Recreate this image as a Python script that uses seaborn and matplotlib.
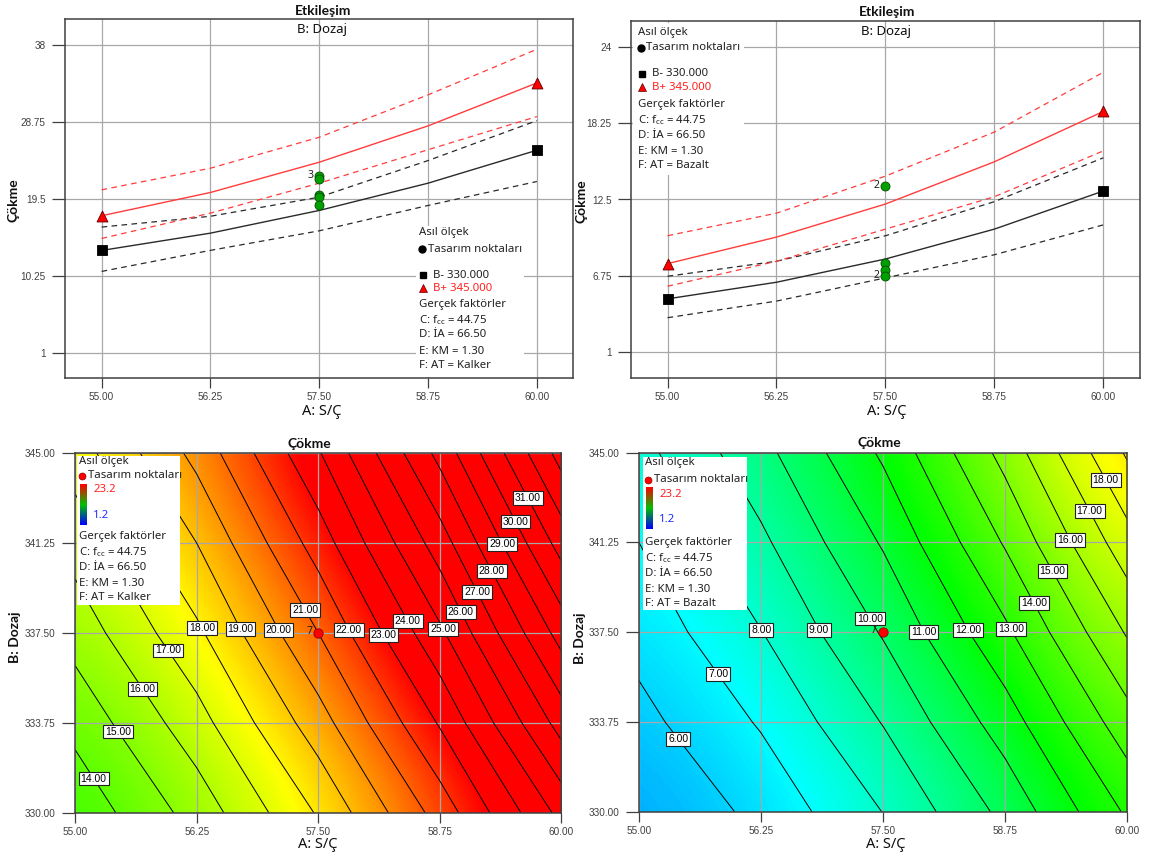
import numpy as np
import pandas as pd
import matplotlib
matplotlib.use("Agg")
import matplotlib.pyplot as plt
import seaborn as sns
from matplotlib.colors import LinearSegmentedColormap
from matplotlib.patches import Rectangle
from matplotlib.lines import Line2D

# ------------------------------------------------------------------ data
A_levels = [55.00, 56.25, 57.50, 58.75, 60.00]
B_levels = [330.00, 333.75, 337.50, 341.25, 345.00]
A_ticklabels = ["55.00", "56.25", "57.50", "58.75", "60.00"]
B_ticklabels = ["330.00", "333.75", "337.50", "341.25", "345.00"]

kal_yticks = [1, 10.25, 19.5, 28.75, 38]
kal_yticklabels = ["1", "10.25", "19.5", "28.75", "38"]
baz_yticks = [1, 6.75, 12.5, 18.25, 24]
baz_yticklabels = ["1", "6.75", "12.5", "18.25", "24"]

# Kalker - interaction (B- = 330, B+ = 345), mean and CI bands
kal_bminus = [13.29, 15.37, 18.10, 21.38, 25.34]
kal_bminus_hi = [16.10, 17.40, 19.70, 24.10, 28.90]
kal_bminus_lo = [10.77, 13.30, 15.65, 18.70, 21.58]
kal_bplus = [17.46, 20.26, 23.90, 28.27, 33.43]
kal_bplus_hi = [20.58, 23.18, 26.90, 32.00, 37.48]
kal_bplus_lo = [14.73, 17.78, 21.38, 25.40, 29.39]
kal_points = [22.3, 21.9, 19.95, 19.7, 18.7]
kal_point_labels = ["3", "", "", "", ""]

# Bazalt - interaction
baz_bminus = [5.02, 6.27, 8.02, 10.27, 13.14]
baz_bminus_hi = [6.72, 7.85, 9.77, 12.34, 15.64]
baz_bminus_lo = [3.60, 4.85, 6.60, 8.34, 10.59]
baz_bplus = [7.67, 9.67, 12.16, 15.34, 19.13]
baz_bplus_hi = [9.77, 11.47, 14.26, 17.58, 22.08]
baz_bplus_lo = [5.97, 7.85, 10.27, 12.71, 16.16]
baz_points = [13.54, 7.72, 7.22, 6.77]
baz_point_labels = ["2", "", "", "2"]

# Contour grids: rows = B_levels (330 -> 345), cols = A_levels
kal_grid = [
    [13.3, 15.4, 18.10, 21.4, 25.3],
    [14.3, 16.6, 19.55, 23.1, 27.4],
    [15.4, 17.8, 21.00, 24.8, 29.4],
    [16.4, 19.0, 22.45, 26.5, 31.4],
    [17.5, 20.3, 23.90, 28.3, 33.4],
]
baz_grid = [
    [5.02, 6.27, 8.02, 10.27, 13.14],
    [5.70, 7.10, 9.05, 11.50, 14.60],
    [6.35, 7.97, 10.09, 12.80, 16.10],
    [7.00, 8.80, 11.10, 14.10, 17.60],
    [7.67, 9.67, 12.16, 15.34, 19.13],
]
kal_levels = list(range(13, 34))
baz_levels = list(range(5, 20))
center_runs = "7"
color_lo, color_hi = 1.2, 23.2

# label placement (data coords) for contour labels
kal_label_pos = [(55.245, 331.57), (55.49, 333.52), (55.75, 335.32), (56.0, 336.9),
                 (56.33, 337.76), (56.75, 337.76), (57.15, 337.76), (57.42, 338.6),
                 (57.87, 337.76), (58.24, 337.58), (58.48, 338.14), (58.83, 337.76),
                 (59.02, 338.5), (59.2, 339.35), (59.34, 340.2), (59.45, 341.34),
                 (59.58, 342.26), (59.69, 343.22)]
baz_label_pos = [(55.47, 333.25), (55.87, 335.92), (56.31, 337.73), (56.92, 337.76),
                 (57.44, 338.25), (58.0, 337.69), (58.45, 337.76), (58.87, 337.76),
                 (59.12, 338.87), (59.3, 340.2), (59.49, 341.52), (59.66, 342.65),
                 (59.82, 343.96)]

# ------------------------------------------------------------------ style
sns.set_style("white")
plt.rcParams['font.family'] = ['Noto Sans', 'DejaVu Sans']
plt.rcParams['mathtext.fontset'] = 'custom'
plt.rcParams['mathtext.rm'] = 'Noto Sans'
plt.rcParams['mathtext.it'] = 'Noto Sans'
plt.rcParams['mathtext.default'] = 'regular'

W, H = 1151, 857
fig = plt.figure(figsize=(W / 100, H / 100), dpi=100)


def fx(x):
    return x / W


def fy(y):
    return 1 - y / H


def axes_px(l, t, r, b, **kw):
    return fig.add_axes([fx(l), fy(b), (r - l) / W, (b - t) / H], **kw)


TICK_FONT = 'Liberation Sans'
BOLD_FONT = ['Lato', 'DejaVu Sans']
EDGE = '#404040'
TXT = '#202020'


def style(ax, xt, xl, yt, yl, xlim, ylim, below=True):
    ax.set_xlim(*xlim)
    ax.set_ylim(*ylim)
    ax.set_xticks(xt, xl, fontfamily=TICK_FONT, fontsize=7.2, color='#404040')
    ax.set_yticks(yt, yl, fontfamily=TICK_FONT, fontsize=7.2, color='#404040')
    ax.tick_params(axis='y', length=9.5, width=0.9, pad=4.5, color=EDGE, direction='out', left=True)
    ax.tick_params(axis='x', length=7, width=0.9, pad=3, color=EDGE, direction='out', bottom=True)
    ax.grid(True, color='#a8a8a8', lw=0.9)
    ax.set_axisbelow(True if below else 'line')
    for sp in ax.spines.values():
        sp.set_visible(True)
        sp.set_color(EDGE)
        sp.set_linewidth(1.1)
    ax.set_xlabel('')
    ax.set_ylabel('')


def ftext(x, y, s, **kw):
    kw.setdefault('fontsize', 8.2)
    kw.setdefault('va', 'center')
    kw.setdefault('ha', 'left')
    kw.setdefault('color', TXT)
    kw.setdefault('zorder', 11)
    fig.text(fx(x), fy(y), s, **kw)


def fbox(l, t, r, b):
    fig.add_artist(Rectangle((fx(l), fy(b)), (r - l) / W, (b - t) / H,
                             transform=fig.transFigure, facecolor='white',
                             edgecolor='none', zorder=10))


def fmark(x, y, **kw):
    fig.add_artist(Line2D([fx(x)], [fy(y)], transform=fig.transFigure,
                          zorder=11, linestyle='none', **kw))


cmap = LinearSegmentedColormap.from_list(
    'de', [(0, '#0000ff'), (0.27, '#00ffff'), (0.5, '#00ff00'),
           (0.76, '#ffff00'), (1, '#ff0000')])
legend_cmap = LinearSegmentedColormap.from_list('lg', ['#0000ff', '#00c000', '#ff0000'])

# ------------------------------------------------------------------ axes
ax_tl = axes_px(65.3, 19.3, 573.2, 378.3)
ax_tr = axes_px(631.2, 21.3, 1139.7, 377.7)
ax_bl = axes_px(75.2, 453.3, 561.4, 812.7)
ax_br = axes_px(638.9, 452.7, 1127.2, 811.7)

BLK = '#2a2a2a'
RED = '#ff3c3c'
DASH = (0, (4.5, 3.5))


def interaction(ax, bm, bm_hi, bm_lo, bp, bp_hi, bp_lo, pts, pt_labels):
    sns.lineplot(x=A_levels, y=bm_hi, ax=ax, color=BLK, lw=0.9, linestyle=DASH, zorder=3)
    sns.lineplot(x=A_levels, y=bm_lo, ax=ax, color=BLK, lw=0.9, linestyle=DASH, zorder=3)
    sns.lineplot(x=A_levels, y=bp_hi, ax=ax, color=RED, lw=0.9, linestyle=DASH, zorder=3)
    sns.lineplot(x=A_levels, y=bp_lo, ax=ax, color=RED, lw=0.9, linestyle=DASH, zorder=3)
    sns.lineplot(x=A_levels, y=bm, ax=ax, color=BLK, lw=1.0, zorder=3)
    sns.lineplot(x=A_levels, y=bp, ax=ax, color=RED, lw=1.0, zorder=3)
    sns.scatterplot(x=[A_levels[0], A_levels[-1]], y=[bm[0], bm[-1]], ax=ax, marker='s',
                    s=50, color='black', edgecolor='black', linewidth=0.6, zorder=5, legend=False)
    sns.scatterplot(x=[A_levels[0], A_levels[-1]], y=[bp[0], bp[-1]], ax=ax, marker='^',
                    s=62, color='#ff0000', edgecolor='#600000', linewidth=0.6, zorder=5, legend=False)
    sns.scatterplot(x=[A_levels[2]] * len(pts), y=pts, ax=ax, marker='o', s=42,
                    color='#00a000', edgecolor='#004d00', linewidth=0.6, zorder=6, legend=False)
    for v, lab in zip(pts, pt_labels):
        if lab:
            ax.annotate(lab, (A_levels[2], v), xytext=(-4.5, 0), textcoords='offset points',
                        ha='right', va='center', fontsize=7.5, color='#202020', zorder=7)


interaction(ax_tl, kal_bminus, kal_bminus_hi, kal_bminus_lo, kal_bplus, kal_bplus_hi,
            kal_bplus_lo, kal_points, kal_point_labels)
style(ax_tl, A_levels, A_ticklabels, kal_yticks, kal_yticklabels,
      (54.583, 60.417), (1 - 3.083, 38 + 3.083))

interaction(ax_tr, baz_bminus, baz_bminus_hi, baz_bminus_lo, baz_bplus, baz_bplus_hi,
            baz_bplus_lo, baz_points, baz_point_labels)
style(ax_tr, A_levels, A_ticklabels, baz_yticks, baz_yticklabels,
      (54.583, 60.417), (1 - 1.917, 24 + 1.917))


def contour_panel(ax, grid, levels, label_pos):
    AA, BB = np.meshgrid(A_levels, B_levels)
    Z = np.array(grid)
    dA = (A_levels[1] - A_levels[0]) / 2
    dB = (B_levels[1] - B_levels[0]) / 2
    ax.imshow(Z, origin='lower', aspect='auto', cmap=cmap, vmin=color_lo, vmax=color_hi,
              interpolation='bicubic', interpolation_stage='data',
              extent=(A_levels[0] - dA, A_levels[-1] + dA, B_levels[0] - dB, B_levels[-1] + dB),
              zorder=0)
    cs = ax.contour(AA, BB, Z, levels=levels, colors='black', linewidths=0.7, zorder=2)
    ax.clabel(cs, inline=False, fmt='%.2f', fontsize=7.5, manual=label_pos, colors='black')
    for t in cs.labelTexts:
        t.set_rotation(0)
        t.set_fontfamily(TICK_FONT)
        t.set_bbox(dict(boxstyle='square,pad=0.18', facecolor='white',
                        edgecolor='#202020', linewidth=0.8))
        t.set_zorder(4)
    sns.scatterplot(x=[A_levels[2]], y=[B_levels[2]], ax=ax, marker='o', s=45,
                    color='#ff0000', edgecolor='#900000', linewidth=0.6, zorder=6, legend=False)
    ax.annotate(center_runs, (A_levels[2], B_levels[2]), xytext=(-4.5, 1), textcoords='offset points',
                ha='right', va='center', fontsize=7.5, color='#202020', zorder=7)


contour_panel(ax_bl, kal_grid, kal_levels, kal_label_pos)
style(ax_bl, A_levels, A_ticklabels, B_levels, B_ticklabels, (55, 60), (330, 345), below=False)
contour_panel(ax_br, baz_grid, baz_levels, baz_label_pos)
style(ax_br, A_levels, A_ticklabels, B_levels, B_ticklabels, (55, 60), (330, 345), below=False)

# ------------------------------------------------------------------ titles / labels
TB = dict(fontsize=10, fontweight='bold', color='#101010', family=BOLD_FONT)
ftext(323, 11, 'Etkileşim', ha='center', **TB)
ftext(887, 12, 'Etkileşim', ha='center', **TB)
ftext(322, 30, 'B: Dozaj', ha='center', fontsize=9.5, color='#101010')
ftext(886, 32, 'B: Dozaj', ha='center', fontsize=9.5, color='#101010')
ftext(309, 444, 'Çökme', ha='center', **TB)
ftext(879, 443, 'Çökme', ha='center', **TB)

ftext(322, 412, 'A: S/Ç', ha='center', fontsize=10.5, color='#101010')
ftext(887, 412, 'A: S/Ç', ha='center', fontsize=10.5, color='#101010')
ftext(318, 845, 'A: S/Ç', ha='center', fontsize=10.5, color='#101010')
ftext(886, 845, 'A: S/Ç', ha='center', fontsize=10.5, color='#101010')

ftext(14, 200, 'Çökme', ha='center', rotation=90, **TB)
ftext(582, 201, 'Çökme', ha='center', rotation=90, **TB)
ftext(15, 637, 'B: Dozaj', ha='center', rotation=90, **TB)
ftext(580, 638, 'B: Dozaj', ha='center', rotation=90, **TB)

# ------------------------------------------------------------------ legends
factors_kal = ['Gerçek faktörler', 'C: f$_{cc}$ = 44.75', 'D: İA = 66.50', 'E: KM = 1.30', 'F: AT = Kalker']
factors_baz = ['Gerçek faktörler', 'C: f$_{cc}$ = 44.75', 'D: İA = 66.50', 'E: KM = 1.30', 'F: AT = Bazalt']


def interaction_legend(box, x0, ys, factors):
    fbox(*box)
    ftext(x0, ys[0], 'Asıl ölçek')
    fmark(x0 + 3, ys[1], marker='o', markersize=5, color='black')
    ftext(x0 + 9, ys[1], 'Tasarım noktaları')
    fmark(x0 + 4, ys[2], marker='s', markersize=5, color='black')
    ftext(x0 + 14, ys[2], 'B- 330.000')
    fmark(x0 + 4, ys[3], marker='^', markersize=5.5, markerfacecolor='#ff0000',
          markeredgecolor='#600000', markeredgewidth=0.5)
    ftext(x0 + 14, ys[3], 'B+ 345.000', color='#ff2020')
    for y, s in zip(ys[4:], factors):
        ftext(x0, y, s)


interaction_legend((416, 226, 524, 377), 419, [233, 249, 275, 288, 304, 320, 335, 351, 366], factors_kal)
interaction_legend((632.5, 22.5, 744, 175), 637.5, [32, 48, 74, 87, 105, 120, 135, 151, 166], factors_baz)


def contour_legend(box, x0, ys, bar, factors):
    fbox(*box)
    ftext(x0, ys[0], 'Asıl ölçek')
    fmark(x0 + 3.5, ys[1], marker='o', markersize=5, markerfacecolor='#ff0000',
          markeredgecolor='#900000', markeredgewidth=0.5)
    ftext(x0 + 9, ys[1], 'Tasarım noktaları')
    l, t, r, b = bar
    cax = fig.add_axes([fx(l), fy(b), (r - l) / W, (b - t) / H], zorder=12)
    cax.imshow(np.linspace(1, 0, 64)[:, None], aspect='auto', cmap=legend_cmap)
    cax.set_axis_off()
    ftext(r + 6, ys[2], '23.2', color='#ff2020')
    ftext(r + 6, ys[3], '1.2', color='#2030ff')
    for y, s in zip(ys[4:], factors):
        ftext(x0, y, s)


contour_legend((77, 456, 180, 605), 79, [462, 476, 489, 515, 537, 552, 568, 583, 598],
               (80, 484, 87, 525), factors_kal)
contour_legend((643, 457, 747, 610), 645, [463, 480, 494, 520, 543, 558, 573, 589, 604],
               (646, 487, 653, 529), factors_baz)

fig.savefig('out.png', dpi=100)
